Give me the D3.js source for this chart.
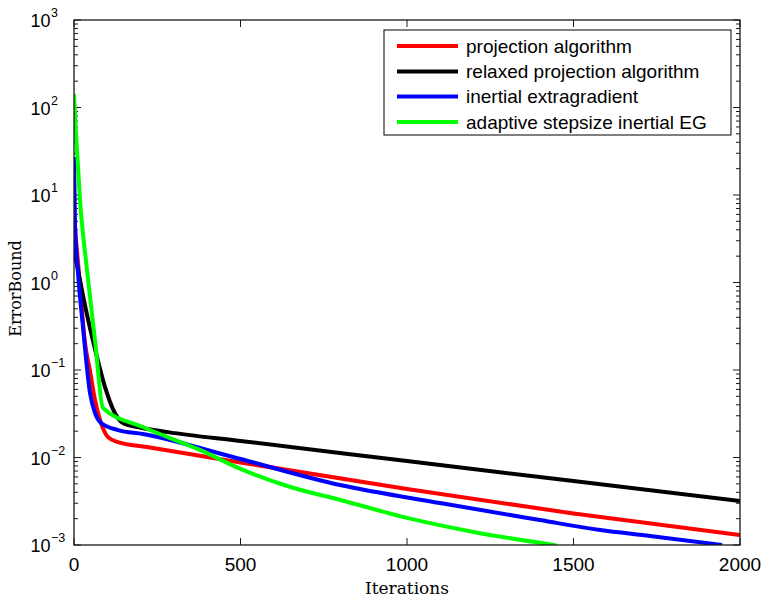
<!DOCTYPE html>
<html>
<head>
<meta charset="utf-8">
<script src="https://cdn.jsdelivr.net/npm/d3@7"></script>
<style>
body{margin:0;background:#fff;}
svg{display:block;}
</style>
</head>
<body>
<div id="chart"></div>
<script>
// data
var seriesNames=["projection algorithm","relaxed projection algorithm","inertial extragradient","adaptive stepsize inertial EG"];
var seriesColors=["#ff0000","#000000","#0000ff","#00ff00"];

var redIter=[0,15,33,48,63,81,102,132,219,500,1000,1500,2000];
var redVal=[5.6,1.25,0.204,0.0975,0.0454,0.0248,0.0171,0.0150,0.0132,0.00877,0.00436,0.00229,0.0013];

var blackIter=[0,6,36,66,93,117,147,192,282,500,1000,1500,2000];
var blackVal=[2.35,1.81,0.485,0.156,0.064,0.0358,0.0248,0.0223,0.0195,0.01545,0.00912,0.00538,0.00318];

var blueIter=[0,3,12,27,48,63,81,132,207,477,799,1099,1399,1580,1730,1946];
var blueVal=[27.2,4.54,1.285,0.31,0.0546,0.0323,0.0248,0.0206,0.0186,0.01014,0.00485,0.00302,0.00193,0.00148,0.00127,0.001];

var greenIter=[0,6,18,39,63,87,207,378,500,650,800,1000,1200,1450];
var greenVal=[142,51,8.8,1.39,0.22,0.0368,0.0223,0.0122,0.0074,0.0046,0.00327,0.00204,0.00141,0.00099];

var xTicks=[0,500,1000,1500,2000];
var yExponents=[-3,-2,-1,0,1,2,3];

var width=764, height=600;
var plotLeft=74, plotRight=740, plotTop=20, plotBottom=545;

var svg=d3.select("#chart").append("svg")
	.attr("width",width)
	.attr("height",height);

var x=d3.scaleLinear().domain([0,2000]).range([plotLeft,plotRight]);
var y=d3.scaleLog().domain([1e-3,1e3]).range([plotBottom,plotTop]);

var axisColor="#1a1a1a";

// minor + major ticks on log axis (left and right, inside)
var minorVals=[];
for(var e=-3;e<3;e++){
	for(var m=2;m<=9;m++){
		minorVals.push(m*Math.pow(10,e));
	}
}
var tickG=svg.append("g").attr("stroke",axisColor).attr("stroke-width",1);
minorVals.forEach(function(v){
	tickG.append("line").attr("x1",plotLeft).attr("x2",plotLeft+4).attr("y1",y(v)).attr("y2",y(v));
	tickG.append("line").attr("x1",plotRight).attr("x2",plotRight-4).attr("y1",y(v)).attr("y2",y(v));
});
yExponents.forEach(function(p){
	var v=Math.pow(10,p);
	tickG.append("line").attr("x1",plotLeft).attr("x2",plotLeft+7).attr("y1",y(v)).attr("y2",y(v));
	tickG.append("line").attr("x1",plotRight).attr("x2",plotRight-7).attr("y1",y(v)).attr("y2",y(v));
});
xTicks.forEach(function(t){
	tickG.append("line").attr("x1",x(t)).attr("x2",x(t)).attr("y1",plotBottom).attr("y2",plotBottom-7);
	tickG.append("line").attr("x1",x(t)).attr("x2",x(t)).attr("y1",plotTop).attr("y2",plotTop+7);
});

// y tick labels: 10^p
var labelFont="'Liberation Sans', Arial, Helvetica, sans-serif";
yExponents.forEach(function(p){
	var yy=y(Math.pow(10,p));
	svg.append("text")
		.attr("x",50.5).attr("y",yy+7)
		.attr("text-anchor","end")
		.style("font-family",labelFont)
		.style("font-size","18px")
		.attr("fill","#000")
		.text("10");
	svg.append("text")
		.attr("x",51).attr("y",yy-3)
		.attr("text-anchor","start")
		.style("font-family",labelFont)
		.style("font-size","12.5px")
		.attr("fill","#000")
		.text(p<0 ? "\u2212"+(-p) : ""+p);
});

// x tick labels
xTicks.forEach(function(t){
	svg.append("text")
		.attr("x",x(t)).attr("y",571)
		.attr("text-anchor","middle")
		.style("font-family",labelFont)
		.style("font-size","19px")
		.attr("fill","#000")
		.text(t);
});

// axis labels
svg.append("text")
	.attr("x",(plotLeft+plotRight)/2).attr("y",594)
	.attr("text-anchor","middle")
	.style("font-family","'DejaVu Serif', serif")
	.style("font-size","17px")
	.attr("fill","#000")
	.text("Iterations");

svg.append("text")
	.attr("transform","translate(21,"+((plotTop+plotBottom)/2+6)+") rotate(-90)")
	.attr("text-anchor","middle")
	.style("font-family","'DejaVu Serif', serif")
	.style("font-size","16px")
	.attr("fill","#000")
	.text("ErrorBound");

// curves
var allSeries=[
	{iter:redIter,val:redVal},
	{iter:blackIter,val:blackVal},
	{iter:blueIter,val:blueVal},
	{iter:greenIter,val:greenVal}
];

var line=d3.line()
	.x(function(d){return x(d[0]);})
	.y(function(d){return y(d[1]);})
	.curve(d3.curveMonotoneX);

svg.append("clipPath").attr("id","plotclip")
	.append("rect").attr("x",plotLeft).attr("y",plotTop).attr("width",plotRight-plotLeft).attr("height",plotBottom-plotTop);

var plotG=svg.append("g").attr("clip-path","url(#plotclip)");
allSeries.forEach(function(s,i){
	var pts=s.iter.map(function(t,j){return [t,s.val[j]];});
	plotG.append("path")
		.datum(pts)
		.attr("d",line)
		.attr("fill","none")
		.attr("stroke",seriesColors[i])
		.attr("stroke-width",4)
		.attr("stroke-linejoin","round");
});

// axes box
svg.append("rect")
	.attr("x",plotLeft).attr("y",plotTop)
	.attr("width",plotRight-plotLeft).attr("height",plotBottom-plotTop)
	.attr("fill","none")
	.attr("stroke",axisColor)
	.attr("stroke-width",1.3);

// legend
var legend=svg.append("g").attr("class","legend");
legend.append("rect")
	.attr("x",384).attr("y",30)
	.attr("width",347).attr("height",105)
	.attr("fill","#fff")
	.attr("stroke","#000")
	.attr("stroke-width",1);

var rowY=[46,71.5,96.5,122];
seriesNames.forEach(function(name,i){
	legend.append("line")
		.attr("x1",397).attr("x2",458)
		.attr("y1",rowY[i]).attr("y2",rowY[i])
		.attr("stroke",seriesColors[i])
		.attr("stroke-width",4);
	legend.append("text")
		.attr("x",466).attr("y",rowY[i]+6.5)
		.style("font-family",labelFont)
		.style("font-size","19px")
		.attr("fill","#000")
		.text(name);
});
</script>
</body>
</html>
